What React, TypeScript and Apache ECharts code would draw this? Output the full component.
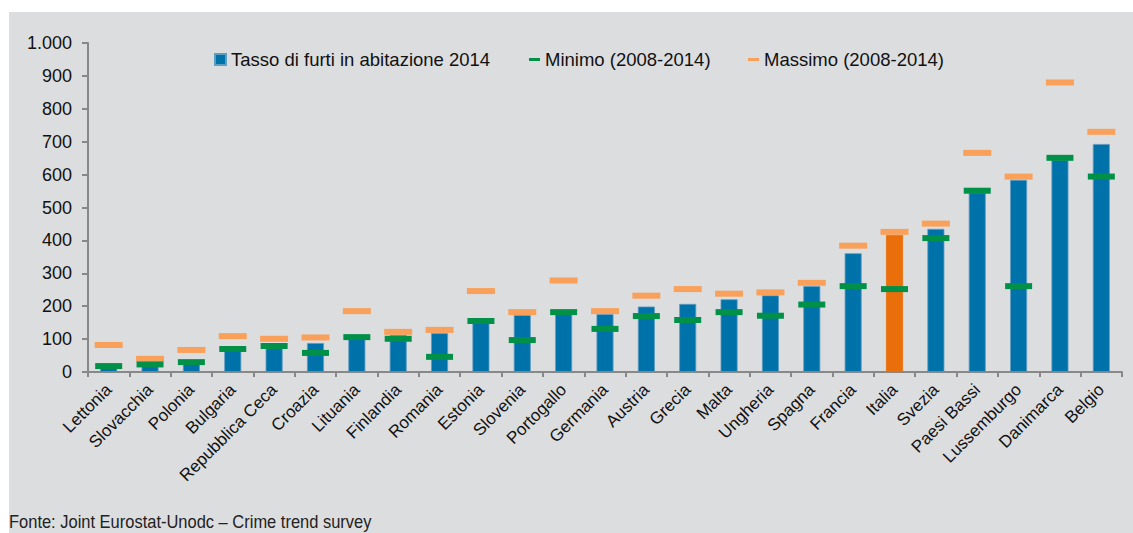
import React, { useEffect, useRef } from "react";
import * as echarts from "echarts";

const countries = [
  "Lettonia", "Slovacchia", "Polonia", "Bulgaria", "Repubblica Ceca", "Croazia",
  "Lituania", "Finlandia", "Romania", "Estonia", "Slovenia", "Portogallo",
  "Germania", "Austria", "Grecia", "Malta", "Ungheria", "Spagna", "Francia",
  "Italia", "Svezia", "Paesi Bassi", "Lussemburgo", "Danimarca", "Belgio",
];
const rate2014 = [12, 22, 28, 70, 80, 88, 106, 112, 118, 155, 173, 180, 176, 199, 207, 221, 233, 261, 361, 416, 435, 545, 584, 645, 693];
const minimo = [18, 23, 30, 70, 79, 58, 106, 101, 46, 155, 97, 182, 131, 170, 158, 182, 171, 205, 261, 252, 407, 551, 261, 651, 594];
const massimo = [82, 40, 67, 109, 101, 105, 185, 122, 128, 246, 182, 278, 185, 232, 252, 238, 242, 271, 384, 426, 451, 666, 594, 880, 730];
const yTicks = [0, 100, 200, 300, 400, 500, 600, 700, 800, 900, 1000];

const NAME_BAR = "Tasso di furti in abitazione 2014";
const NAME_MIN = "Minimo (2008-2014)";
const NAME_MAX = "Massimo (2008-2014)";
const HIGHLIGHT = "Italia";
const SOURCE = "Fonte: Joint Eurostat-Unodc \u2013 Crime trend survey";

export default function App() {
  const ref = useRef<HTMLDivElement>(null);
  useEffect(() => {
    if (!ref.current) return;
    const chart = echarts.init(ref.current, null, { renderer: "svg" });
    const font = "'Liberation Sans', Arial, sans-serif";
    const legendText = { fontFamily: font, fontSize: 18.5, color: "#111" };
    chart.setOption({
      animation: false,
      backgroundColor: "#fff",
      graphic: [
        { type: "rect", left: 9, top: 12, shape: { width: 1124, height: 521 }, style: { fill: "#DCDDDF" }, z: -10 },
        {
          type: "text", x: 9, y: 513, scaleX: 0.915,
          style: { text: SOURCE, fontFamily: "'Liberation Sans Narrow', 'Liberation Sans', sans-serif", fontSize: 18, fill: "#222" },
        },
      ],
      legend: [
        { data: [NAME_BAR], left: 214, top: 50, padding: 0, itemWidth: 11, itemHeight: 11, icon: "rect", textStyle: legendText },
        { data: [NAME_MIN], left: 529, top: 50, padding: 0, itemWidth: 11, itemHeight: 3, icon: "rect", textStyle: legendText },
        { data: [NAME_MAX], left: 748, top: 50, padding: 0, itemWidth: 11, itemHeight: 3, icon: "rect", textStyle: legendText },
      ],
      grid: { left: 88, right: 11, top: 43, bottom: 161, containLabel: false },
      xAxis: {
        type: "category",
        data: countries,
        axisLine: { lineStyle: { color: "#888", width: 2 } },
        axisTick: { show: true, length: 5, lineStyle: { color: "#888", width: 2 } },
        axisLabel: { rotate: 45, interval: 0, fontFamily: font, fontSize: 17, color: "#111", margin: 15 },
      },
      yAxis: {
        type: "value",
        min: 0, max: 1000, interval: 100,
        axisLine: { show: true, lineStyle: { color: "#888", width: 2 } },
        axisTick: { show: true, length: 6, lineStyle: { color: "#888", width: 2 } },
        splitLine: { show: false },
        axisLabel: {
          fontFamily: font, fontSize: 18, color: "#111", margin: 16,
          formatter: (v: number) => (yTicks.includes(v) ? v.toLocaleString("de-DE") : ""),
        },
      },
      series: [
        {
          name: NAME_BAR,
          type: "bar",
          barWidth: 17,
          itemStyle: { color: "#0072AA", borderColor: "#5E9CC2", borderWidth: 0.8 },
          data: rate2014.map((v, i) =>
            countries[i] === HIGHLIGHT
              ? { value: v, itemStyle: { color: "#EA6E0A", borderColor: "#EA6E0A" } }
              : v
          ),
          z: 2,
        },
        {
          name: NAME_MIN,
          type: "scatter",
          symbol: "rect",
          symbolSize: [27, 6],
          itemStyle: { color: "#009048", opacity: 1 },
          data: minimo,
          z: 4,
        },
        {
          name: NAME_MAX,
          type: "scatter",
          symbol: "rect",
          symbolSize: [28, 6],
          itemStyle: { color: "#F9A05A", opacity: 1 },
          data: massimo,
          z: 3,
        },
      ],
    });
    return () => chart.dispose();
  }, []);
  return <div ref={ref} style={{ width: 1133, height: 533, position: "absolute", left: 0, top: 0 }} />;
}
